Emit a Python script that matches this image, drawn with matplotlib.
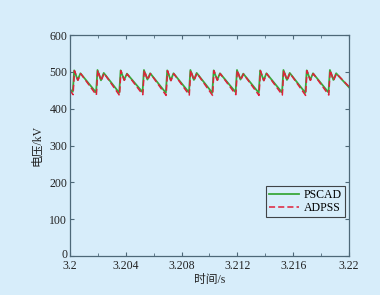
import matplotlib
matplotlib.use('Agg')
import matplotlib.pyplot as plt
from matplotlib.ticker import MultipleLocator
import matplotlib.transforms as mtransforms

# data (time in s, voltage in kV)
t_pscad = [3.2000, 3.2002, 3.2003, 3.20055, 3.20075,
           3.20187, 3.20197, 3.20222, 3.20242,
           3.20353, 3.20363, 3.20388, 3.20408,
           3.2052, 3.2053, 3.20555, 3.20575,
           3.20687, 3.20697, 3.20722, 3.20742,
           3.20853, 3.20863, 3.20888, 3.20908,
           3.2102, 3.2103, 3.21055, 3.21075,
           3.21187, 3.21197, 3.21222, 3.21242,
           3.21353, 3.21363, 3.21388, 3.21408,
           3.2152, 3.2153, 3.21555, 3.21575,
           3.21687, 3.21697, 3.21722, 3.21742,
           3.21853, 3.21863, 3.21888, 3.21908,
           3.2200]
v_pscad = [452, 446, 504, 478, 496,
           444, 505, 477, 497,
           443, 504, 478, 495,
           445, 505, 479, 496,
           443, 504, 477, 496,
           444, 505, 478, 497,
           443, 504, 478, 496,
           445, 505, 479, 495,
           443, 504, 477, 496,
           444, 505, 478, 497,
           443, 504, 478, 496,
           444, 505, 478, 496,
           458]

t_adpss = [3.2000, 3.20022, 3.20032, 3.20057, 3.20077,
           3.20189, 3.20199, 3.20224, 3.20244,
           3.20355, 3.20365, 3.2039, 3.2041,
           3.20522, 3.20532, 3.20557, 3.20577,
           3.20689, 3.20699, 3.20724, 3.20744,
           3.20855, 3.20865, 3.2089, 3.2091,
           3.21022, 3.21032, 3.21057, 3.21077,
           3.21189, 3.21199, 3.21224, 3.21244,
           3.21355, 3.21365, 3.2139, 3.2141,
           3.21522, 3.21532, 3.21557, 3.21577,
           3.21689, 3.21699, 3.21724, 3.21744,
           3.21855, 3.21865, 3.2189, 3.2191,
           3.2200]
v_adpss = [450, 438, 503, 477, 495,
           437, 504, 476, 496,
           436, 503, 477, 494,
           438, 504, 478, 495,
           436, 503, 476, 495,
           437, 504, 477, 496,
           436, 503, 477, 495,
           438, 504, 478, 494,
           436, 503, 476, 495,
           437, 504, 477, 496,
           436, 503, 477, 495,
           437, 504, 477, 495,
           460]

bg = '#d7edfa'
serif = ['Liberation Serif', 'Noto Sans CJK SC']
plt.rcParams['font.family'] = serif

fig = plt.figure(figsize=(3.8, 2.95), dpi=100, facecolor=bg)
ax = fig.add_axes([70 / 380, 1 - 256 / 295, 279 / 380, 221 / 295])
ax.set_facecolor(bg)

ax.plot(t_pscad, v_pscad, color='#3aa83a', linewidth=1.3, label='PSCAD')
ax.plot(t_adpss, v_adpss, color='#e0203a', linewidth=1.1, linestyle=(0, (4, 2)), label='ADPSS')

ax.set_xlim(3.2, 3.22)
ax.set_ylim(0, 600)
ax.set_xticks([3.2, 3.204, 3.208, 3.212, 3.216, 3.22])
ax.set_xticklabels(['3.2', '3.204', '3.208', '3.212', '3.216', '3.22'])
ax.xaxis.set_minor_locator(MultipleLocator(0.002))
ax.set_yticks([0, 100, 200, 300, 400, 500, 600])

for s in ax.spines.values():
    s.set_color('#4d6878')
    s.set_linewidth(0.9)
ax.tick_params(which='both', direction='in', top=True, right=True,
               color='#4d6878', labelsize=8.5, labelcolor='#222222', pad=2)
ax.tick_params(axis='x', pad=3)
ax.tick_params(which='major', length=3)
ax.tick_params(which='minor', length=2)

# lift the "0" a little so it does not sit on top of "3.2"
ytl = ax.get_yticklabels()
ytl[0].set_transform(ytl[0].get_transform() +
                     mtransforms.ScaledTranslation(0, 3 / 100, fig.dpi_scale_trans))

ax.set_xlabel('时间/s', fontsize=8.5, color='#222222', labelpad=1, family=serif)
ax.set_ylabel('电压/kV', fontsize=8.5, color='#222222', labelpad=4, family=serif)

leg = ax.legend(loc='lower right', bbox_to_anchor=(0.986, 0.176), borderaxespad=0,
                fontsize=8.5, frameon=True, fancybox=False, handlelength=2.6,
                borderpad=0.25, labelspacing=0.1, handletextpad=0.4)
leg.get_frame().set_edgecolor('#1a1a1a')
leg.get_frame().set_linewidth(0.8)
leg.get_frame().set_facecolor(bg)

fig.savefig('out.png', dpi=100, facecolor=bg)
